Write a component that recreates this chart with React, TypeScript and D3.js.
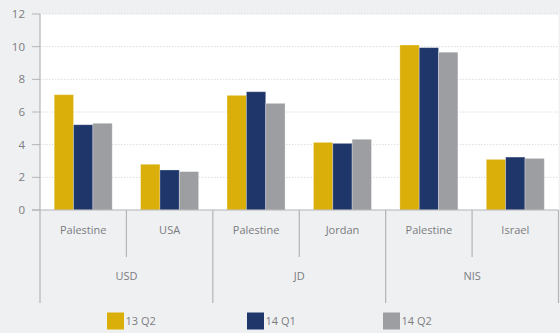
import React from "react";
import * as d3 from "d3";

const groups = ["USD", "JD", "NIS"];
const subcats = ["Palestine", "USA", "Palestine", "Jordan", "Palestine", "Israel"];
const subGroup = [0, 0, 1, 1, 2, 2];
const seriesNames = ["13 Q2", "14 Q1", "14 Q2"];
const s13Q2 = [7.06, 2.8, 7.02, 4.14, 10.1, 3.1];
const s14Q1 = [5.22, 2.45, 7.24, 4.08, 9.94, 3.24];
const s14Q2 = [5.31, 2.35, 6.53, 4.33, 9.66, 3.16];
const yTicks = [0, 2, 4, 6, 8, 10, 12];
const colors = ["#dbaf0a", "#1f366a", "#9d9ea2"];

const W = 560, H = 333;
const left = 40, right = 558.5, top = 14, bottom = 210;

export default function App() {
  const series = [s13Q2, s14Q1, s14Q2];
  const x = d3.scaleBand<number>().domain(d3.range(subcats.length)).range([left, right]).paddingInner(0).paddingOuter(0);
  const xi = d3.scaleBand<number>().domain([0, 1, 2]).range([0, x.bandwidth()]).paddingOuter(0.735).paddingInner(0);
  const y = d3.scaleLinear().domain([0, 12]).range([bottom, top]);
  const font = "'Open Sans', sans-serif";
  const textColor = "#7b7c80";
  const lineColor = "#b3b4b8";

  const groupBounds = groups.map((g, gi) => {
    const idx = subGroup.map((v, i) => (v === gi ? i : -1)).filter((i) => i >= 0);
    const x0 = x(idx[0])!;
    const x1 = x(idx[idx.length - 1])! + x.bandwidth();
    return { g, x0, x1 };
  });

  const legendX = [107, 247, 383];

  return (
    <svg width={W} height={H} style={{ position: "absolute", left: 0, top: 0 }} fontFamily={font}>
      <rect x={0} y={0} width={W} height={H} fill="#eff0f2" />
      <rect x={left} y={top} width={right - left} height={bottom - top} fill="#ffffff" />
      {yTicks.map((t) => (
        <g key={t}>
          {t > 0 && (
            <line x1={left} x2={right} y1={y(t)} y2={y(t)} stroke="#dcdcdc" strokeWidth={1} strokeDasharray="1.5,1.5" />
          )}
          <line x1={32} x2={left} y1={y(t)} y2={y(t)} stroke={lineColor} strokeWidth={1} />
          <text x={25} y={y(t)} dy="0.35em" textAnchor="end" fontSize={11.5} fill={textColor}>
            {t}
          </text>
        </g>
      ))}
      {subcats.map((c, i) =>
        series.map((s, si) => {
          const bx = x(i)! + xi(si)!;
          return (
            <rect
              key={`${i}-${si}`}
              x={bx}
              y={y(s[i])}
              width={xi.bandwidth()}
              height={bottom - y(s[i])}
              fill={colors[si]}
              stroke="rgba(255,255,255,0.35)"
              strokeWidth={0.8}
            />
          );
        })
      )}
      <line x1={32} x2={right} y1={bottom} y2={bottom} stroke={lineColor} strokeWidth={1.2} />
      <line x1={left} x2={left} y1={top} y2={bottom} stroke={lineColor} strokeWidth={1.2} />
      {subcats.map((c, i) => (
        <g key={`l${i}`}>
          <text x={x(i)! + x.bandwidth() / 2} y={230} dy="0.35em" textAnchor="middle" fontSize={11} fill={textColor}>
            {c}
          </text>
          {i % 2 === 1 && (
            <line x1={x(i)!} x2={x(i)!} y1={bottom} y2={257} stroke={lineColor} strokeWidth={1.2} />
          )}
        </g>
      ))}
      {groupBounds.map((b, i) => (
        <g key={`g${i}`}>
          <line x1={b.x0} x2={b.x0} y1={bottom} y2={303} stroke={lineColor} strokeWidth={1.2} />
          {i === groupBounds.length - 1 && (
            <line x1={b.x1} x2={b.x1} y1={bottom} y2={303} stroke={lineColor} strokeWidth={1.2} />
          )}
          <text x={(b.x0 + b.x1) / 2} y={276} dy="0.35em" textAnchor="middle" fontSize={11} fill={textColor}>
            {b.g}
          </text>
        </g>
      ))}
      {seriesNames.map((n, i) => (
        <g key={`lg${i}`}>
          <rect x={legendX[i]} y={312.5} width={17} height={17} fill={colors[i]} />
          <text x={legendX[i] + 18.5} y={321} dy="0.35em" fontSize={11} fill={textColor}>
            {n}
          </text>
        </g>
      ))}
    </svg>
  );
}
